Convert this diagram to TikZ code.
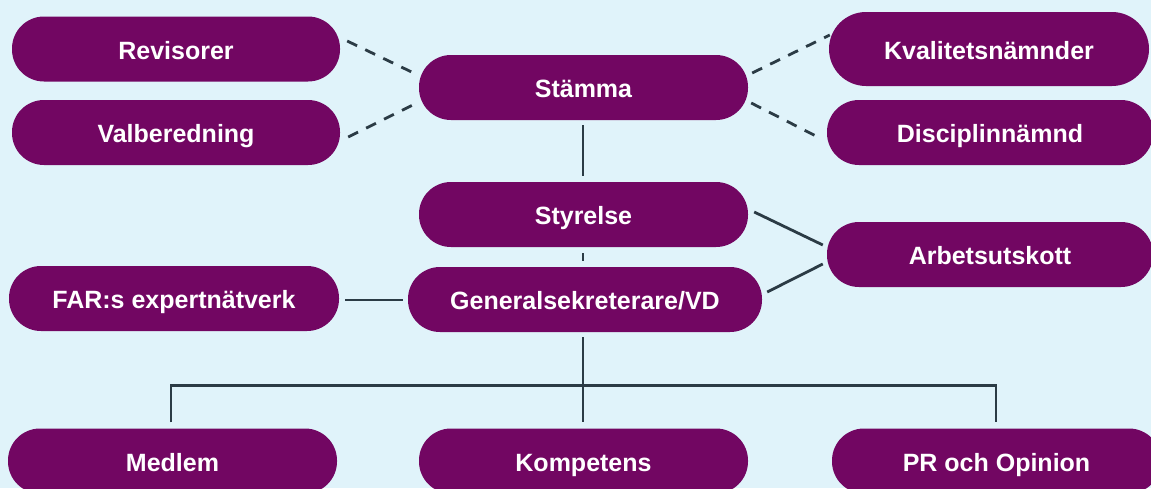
\documentclass[tikz,border=0pt]{standalone}
\usepackage{fontspec}
\setmainfont{Liberation Sans}
\definecolor{bg}{HTML}{E0F3FA}
\definecolor{purp}{HTML}{720662}
\definecolor{ln}{HTML}{2B3B45}
\begin{document}
\begin{tikzpicture}[x=1pt,y=-1pt,
  box/.style={rectangle, rounded corners=32pt, fill=purp, text=white,
    font=\fontsize{25}{28}\selectfont\bfseries, minimum height=65pt, inner sep=0pt,
    text height=20.5pt, text depth=0pt},
  conn/.style={draw=ln, line width=2.8pt},
  dconn/.style={conn, dash pattern=on 11pt off 9pt}]
\useasboundingbox (0,0) rectangle (1151,488);
\fill[bg] (0,0) rectangle (1151,488);
\clip (0,0) rectangle (1151,488);
% nodes
\node[box, minimum width=328pt] (rev) at (176,49) {Revisorer};
\node[box, minimum width=328pt] (val) at (176,132.5) {Valberedning};
\node[box, minimum width=329pt] (st) at (583.5,87.5) {Stämma};
\node[box, minimum width=320pt, minimum height=74pt, rounded corners=37pt] (kv) at (989,49) {Kvalitetsnämnder};
\node[box, minimum width=326pt] (di) at (990,132.5) {Disciplinnämnd};
\node[box, minimum width=329pt] (sty) at (583.5,214.5) {Styrelse};
\node[box, minimum width=354pt] (gs) at (585,299.5) {Generalsekreterare/VD};
\node[box, minimum width=330pt] (far) at (174,298.5) {FAR:s expertnätverk};
\node[box, minimum width=326pt] (arb) at (990,254.5) {Arbetsutskott};
\node[box, minimum width=329pt] (med) at (172.5,461) {Medlem};
\node[box, minimum width=329pt] (komp) at (583.5,461) {Kompetens};
\node[box, minimum width=329pt] (pr) at (996.5,461) {PR och Opinion};
% dashed connectors
\draw[dconn] ([shift={(7,-8)}]rev.east) -- ([shift={(-3,-13.5)}]st.west);
\draw[dconn] ([shift={(8,4.5)}]val.east) -- ([shift={(-2,15.5)}]st.west);
\draw[dconn] ([shift={(4,-14.5)}]st.east) -- ([shift={(1,-14)}]kv.west);
\draw[dconn] ([shift={(3,15.5)}]st.east) -- ([shift={(-7,5.5)}]di.west);
% solid connectors
\draw[conn] ([shift={(-0.5,5)}]st.south) -- ([shift={(-0.5,-6)}]sty.north);
\draw[conn] ([shift={(-0.5,6)}]sty.south) -- ([shift={(-2,-6)}]gs.north);
\draw[conn] ([shift={(6,-2.5)}]sty.east) -- ([shift={(-4,-9.5)}]arb.west);
\draw[conn] ([shift={(5,-7.5)}]gs.east) -- ([shift={(-4,9.5)}]arb.west);
\draw[conn] ([shift={(6,1.5)}]far.east) -- ([shift={(-5,0.5)}]gs.west);
\coordinate (hub) at ([shift={(-2,53)}]gs.south);
\draw[conn] ([shift={(-2,5)}]gs.south) -- (hub);
\draw[conn] ([shift={(-1.5,-6)}]med.north) |- (hub) -| ([shift={(-0.5,-6)}]pr.north);
\draw[conn] (hub) -- ([shift={(-0.5,-6)}]komp.north);
\end{tikzpicture}
\end{document}
